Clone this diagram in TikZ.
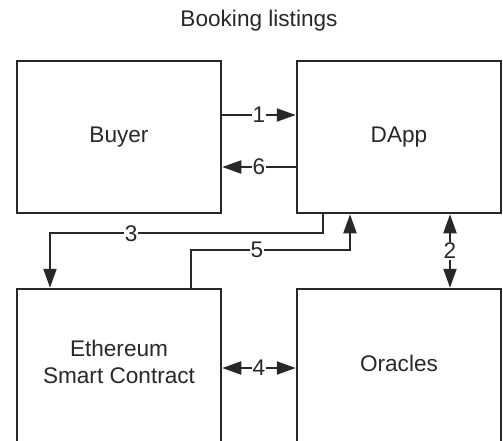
\documentclass[tikz,border=0pt]{standalone}
\usepackage{fontspec}
\setmainfont{Liberation Sans}
\usetikzlibrary{arrows.meta}
\definecolor{ink}{RGB}{40,40,40}
\begin{document}
\begin{tikzpicture}[x=1pt,y=-1pt,
  box/.style={draw=ink,line width=2.5pt,minimum width=204pt,minimum height=152pt,inner sep=0pt,align=center,text=ink,font=\fontsize{22.6}{27}\selectfont},
  lowbox/.style={box,minimum height=156pt},
  arr/.style={draw=ink,line width=2pt,-{Triangle[length=19pt,width=13pt]}},
  darr/.style={draw=ink,line width=2pt,{Triangle[length=19pt,width=13pt]}-{Triangle[length=19pt,width=13pt]}},
  lbl/.style={fill=white,inner sep=1pt,text=ink,font=\fontsize{22.6}{26}\selectfont}]
\useasboundingbox[fill=white] (0,0) rectangle (503,440);
\node[text=ink,font=\fontsize{22.6}{26}\selectfont] (title) at (259,21) {Booking listings};
\node[box] (buyer) at (119,137) {Buyer};
\node[box] (dapp) at (399,137) {DApp};
\node[lowbox,text depth=10pt] (eth) at (119,367) {Ethereum\\Smart Contract};
\node[lowbox,text depth=8pt] (orc) at (399,367) {Oracles};
% 1 and 6
\draw[arr] ([yshift=22pt]buyer.east) -- node[lbl]{1} ([yshift=22pt]dapp.west);
\draw[arr] ([yshift=-30pt]dapp.west) -- node[lbl]{6} ([yshift=-30pt]buyer.east);
% 3
\coordinate (e3) at ([xshift=-69pt]eth.north);
\draw[arr] ([xshift=-76pt]dapp.south) -- ++(0,19) coordinate (t3) -- (t3 -| e3) node[lbl,pos=0.703]{3} -- (e3);
% 5
\coordinate (d5) at ([xshift=-49pt]dapp.south);
\draw[arr] ([xshift=72pt]eth.north) -- ++(0,-38) coordinate (t5) -- (t5 -| d5) node[lbl,pos=0.415]{5} -- (d5);
% 2
\draw[darr] ([xshift=51pt]dapp.south) -- node[lbl]{2} ([xshift=51pt]orc.north);
% 4
\draw[darr] ([yshift=-1pt]eth.east) -- node[lbl]{4} ([yshift=-1pt]orc.west);
\end{tikzpicture}
\end{document}
